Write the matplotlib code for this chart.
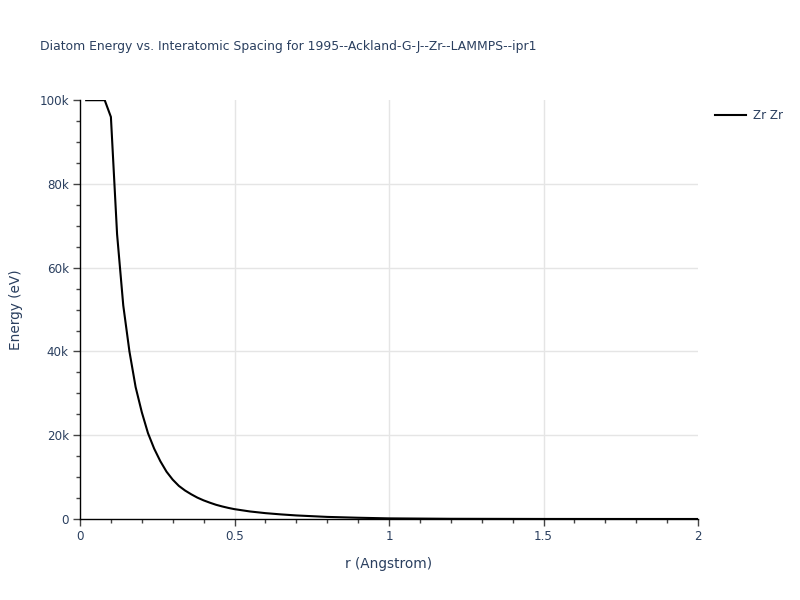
import numpy as np
import matplotlib.pyplot as plt
from matplotlib.ticker import MultipleLocator, FuncFormatter

# Diatom energy curve
r_angstrom = [0.02, 0.04, 0.06, 0.08, 0.10, 0.12, 0.14, 0.16, 0.18, 0.20,
              0.22, 0.24, 0.26, 0.28, 0.30, 0.32, 0.34, 0.36, 0.38, 0.40,
              0.42, 0.44, 0.46, 0.48, 0.50, 0.55, 0.60, 0.65, 0.70, 0.80,
              0.90, 1.00, 1.20, 1.50, 1.75, 2.00]
energy_ev = [100000, 100000, 100000, 100000, 96000, 68000, 51000, 40000, 31500, 25500,
             20500, 16800, 13800, 11300, 9400, 7900, 6800, 5900, 5100, 4450,
             3900, 3400, 3000, 2650, 2350, 1800, 1400, 1100, 850, 500,
             300, 150, 50, 10, 3, 0]
series_name = 'Zr Zr'
title = 'Diatom Energy vs. Interatomic Spacing for 1995--Ackland-G-J--Zr--LAMMPS--ipr1'

text_color = '#2a3f5f'
grid_color = '#e5e5e5'

plt.rcParams['font.family'] = ['DejaVu Sans']

fig = plt.figure(figsize=(8, 6), dpi=100)
ax = fig.add_axes([0.1, 0.135, 0.7725, 0.698])

ax.plot(r_angstrom, energy_ev, color='black', linewidth=1.5, label=series_name)

ax.set_xlim(0, 2)
ax.set_ylim(0, 100000)

# gridlines only inside the range, like the reference
for gx in [0.5, 1.0, 1.5]:
    ax.axvline(gx, color=grid_color, linewidth=1, zorder=0)
for gy in [20000, 40000, 60000, 80000]:
    ax.axhline(gy, color=grid_color, linewidth=1, zorder=0)

ax.xaxis.set_major_locator(MultipleLocator(0.5))
ax.xaxis.set_minor_locator(MultipleLocator(0.1))
ax.yaxis.set_major_locator(MultipleLocator(20000))
ax.yaxis.set_minor_locator(MultipleLocator(5000))
ax.xaxis.set_major_formatter(FuncFormatter(lambda v, p: f'{v:g}'))
ax.yaxis.set_major_formatter(FuncFormatter(lambda v, p: '0' if v == 0 else f'{int(v / 1000)}k'))

for side in ['top', 'right']:
    ax.spines[side].set_visible(False)
for side in ['left', 'bottom']:
    ax.spines[side].set_color('black')
    ax.spines[side].set_linewidth(1)

ax.tick_params(which='major', direction='out', length=5, width=1, color='#444444',
               labelcolor=text_color, labelsize=8.6, pad=3)
ax.tick_params(which='minor', direction='out', length=3, width=1, color='#444444')

ax.set_xlabel('r (Angstrom)', fontsize=9.8, color=text_color, labelpad=10)
ax.set_ylabel('Energy (eV)', fontsize=9.8, color=text_color, labelpad=12)

fig.text(0.05, 0.923, title, fontsize=8.9, color=text_color, va='center', ha='left')

leg = ax.legend(loc='upper left', bbox_to_anchor=(1.02, 0.99), frameon=False,
                fontsize=8.6, handlelength=2.6, handletextpad=0.6, borderaxespad=0)
for t in leg.get_texts():
    t.set_color(text_color)

fig.savefig('out.png', dpi=100)
